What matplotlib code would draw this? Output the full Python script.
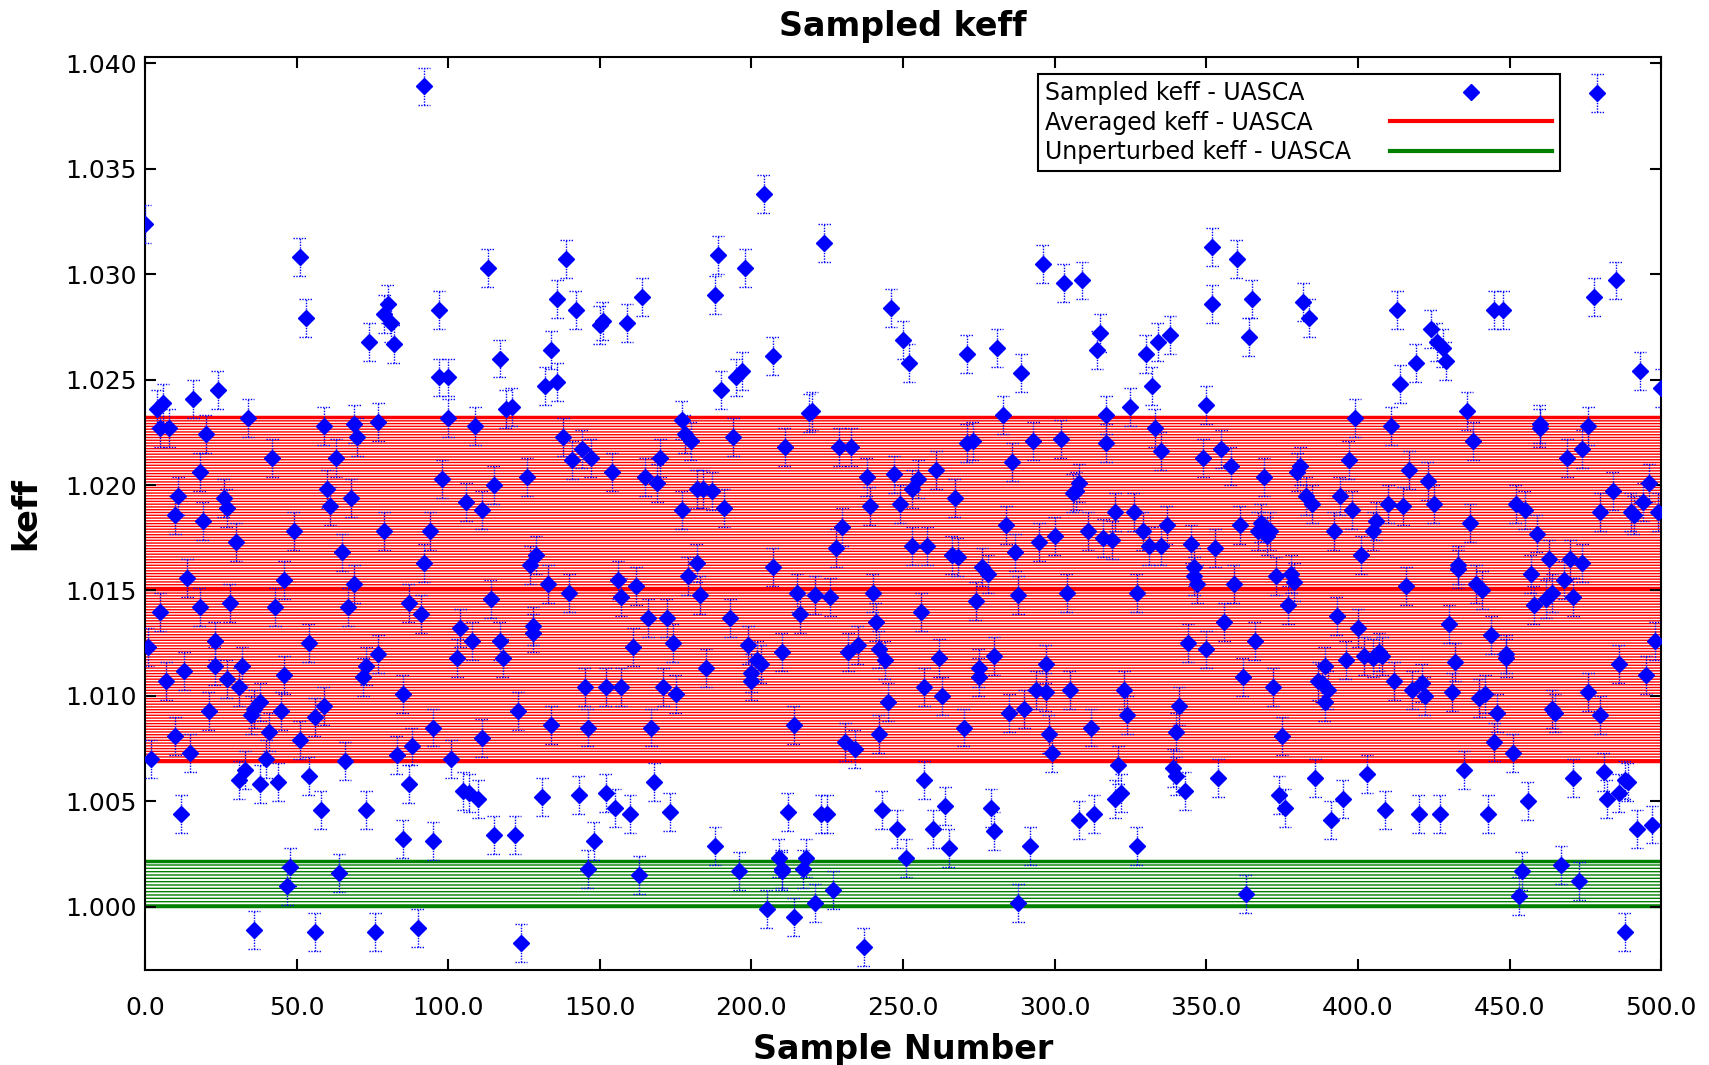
import matplotlib
matplotlib.use('Agg')
import matplotlib.pyplot as plt
from matplotlib.lines import Line2D
import numpy as np

# sample index and sampled keff
sample_number = [
    0, 1, 2, 4, 5, 5, 6, 7, 8, 10,
    10, 11, 12, 13, 14, 15, 16, 18, 18, 19,
    20, 21, 23, 23, 24, 26, 27, 27, 28, 30,
    31, 31, 32, 33, 34, 35, 36, 36, 38, 38,
    40, 41, 42, 43, 44, 45, 46, 46, 47, 48,
    49, 51, 51, 53, 54, 54, 56, 56, 58, 59,
    59, 60, 61, 63, 64, 65, 66, 67, 68, 69,
    69, 70, 72, 73, 73, 74, 76, 77, 77, 79,
    79, 80, 81, 82, 83, 85, 85, 87, 87, 88,
    90, 91, 92, 92, 94, 95, 95, 97, 97, 98,
    100, 100, 101, 103, 104, 105, 106, 107, 108, 109,
    110, 111, 111, 113, 114, 115, 115, 117, 117, 118,
    119, 121, 122, 123, 124, 126, 127, 128, 128, 129,
    131, 132, 133, 134, 134, 136, 136, 138, 139, 140,
    141, 142, 143, 144, 145, 146, 146, 147, 148, 150,
    151, 152, 152, 154, 155, 156, 157, 157, 159, 160,
    161, 162, 163, 164, 165, 166, 167, 168, 169, 170,
    171, 172, 173, 174, 175, 177, 177, 178, 179, 180,
    182, 182, 183, 184, 185, 187, 188, 188, 189, 190,
    191, 193, 194, 195, 196, 197, 198, 199, 200, 200,
    202, 203, 204, 205, 207, 207, 209, 210, 210, 210,
    211, 212, 214, 214, 215, 216, 217, 218, 219, 220,
    221, 221, 223, 224, 225, 226, 227, 228, 229, 230,
    231, 232, 233, 234, 235, 237, 238, 239, 240, 241,
    242, 242, 243, 244, 245, 246, 247, 248, 249, 250,
    251, 252, 253, 253, 255, 256, 257, 257, 258, 260,
    261, 262, 263, 264, 265, 266, 267, 268, 270, 271,
    271, 273, 274, 275, 275, 276, 278, 279, 280, 280,
    281, 283, 284, 285, 286, 287, 288, 288, 289, 290,
    292, 293, 294, 295, 296, 297, 297, 298, 299, 300,
    302, 303, 304, 305, 306, 307, 308, 308, 309, 311,
    312, 313, 314, 315, 316, 317, 317, 319, 320, 320,
    321, 322, 323, 324, 325, 326, 327, 327, 329, 330,
    331, 332, 333, 334, 335, 335, 337, 338, 339, 340,
    340, 341, 343, 344, 345, 346, 346, 347, 349, 350,
    350, 352, 352, 353, 354, 355, 356, 358, 359, 360,
    361, 362, 363, 364, 365, 366, 367, 368, 369, 370,
    371, 372, 373, 374, 375, 376, 377, 378, 379, 380,
    381, 382, 383, 384, 385, 386, 387, 388, 389, 389,
    390, 391, 392, 393, 394, 395, 396, 397, 398, 399,
    400, 401, 402, 403, 405, 405, 406, 407, 408, 409,
    410, 411, 412, 413, 414, 415, 416, 417, 418, 419,
    420, 421, 422, 423, 424, 425, 426, 427, 428, 429,
    430, 431, 432, 433, 433, 435, 436, 437, 438, 439,
    440, 441, 442, 443, 444, 445, 445, 446, 448, 449,
    449, 451, 452, 453, 454, 455, 456, 457, 458, 459,
    460, 460, 462, 463, 464, 464, 465, 467, 468, 469,
    470, 471, 471, 473, 474, 474, 476, 476, 478, 479,
    480, 480, 481, 482, 484, 485, 486, 486, 488, 488,
    489, 490, 491, 492, 493, 494, 495, 496, 497, 498,
    499, 500,
]

keff_sampled = [
    1.0324, 1.0123, 1.0070, 1.0236, 1.0227, 1.0140, 1.0239, 1.0107, 1.0227, 1.0186,
    1.0081, 1.0195, 1.0044, 1.0112, 1.0156, 1.0073, 1.0241, 1.0142, 1.0206, 1.0183,
    1.0224, 1.0093, 1.0126, 1.0114, 1.0245, 1.0194, 1.0108, 1.0189, 1.0144, 1.0173,
    1.0060, 1.0104, 1.0114, 1.0065, 1.0232, 1.0091, 0.9989, 1.0094, 1.0058, 1.0097,
    1.0070, 1.0083, 1.0213, 1.0142, 1.0059, 1.0093, 1.0110, 1.0155, 1.0010, 1.0019,
    1.0178, 1.0308, 1.0079, 1.0279, 1.0062, 1.0125, 0.9988, 1.0090, 1.0046, 1.0228,
    1.0095, 1.0198, 1.0190, 1.0213, 1.0016, 1.0168, 1.0069, 1.0142, 1.0194, 1.0153,
    1.0229, 1.0223, 1.0109, 1.0046, 1.0114, 1.0268, 0.9988, 1.0230, 1.0120, 1.0178,
    1.0281, 1.0286, 1.0277, 1.0267, 1.0072, 1.0101, 1.0032, 1.0144, 1.0058, 1.0076,
    0.9990, 1.0139, 1.0163, 1.0389, 1.0178, 1.0031, 1.0085, 1.0283, 1.0251, 1.0203,
    1.0251, 1.0232, 1.0070, 1.0118, 1.0132, 1.0055, 1.0192, 1.0054, 1.0126, 1.0228,
    1.0051, 1.0188, 1.0080, 1.0303, 1.0146, 1.0034, 1.0200, 1.0260, 1.0126, 1.0118,
    1.0236, 1.0237, 1.0034, 1.0093, 0.9983, 1.0204, 1.0162, 1.0133, 1.0130, 1.0167,
    1.0052, 1.0247, 1.0153, 1.0086, 1.0264, 1.0288, 1.0249, 1.0223, 1.0307, 1.0149,
    1.0212, 1.0283, 1.0053, 1.0217, 1.0104, 1.0018, 1.0085, 1.0213, 1.0031, 1.0276,
    1.0278, 1.0054, 1.0104, 1.0206, 1.0047, 1.0155, 1.0147, 1.0104, 1.0277, 1.0044,
    1.0123, 1.0152, 1.0015, 1.0289, 1.0204, 1.0137, 1.0085, 1.0059, 1.0201, 1.0213,
    1.0104, 1.0137, 1.0045, 1.0125, 1.0101, 1.0188, 1.0231, 1.0224, 1.0157, 1.0221,
    1.0163, 1.0198, 1.0148, 1.0198, 1.0113, 1.0197, 1.0029, 1.0290, 1.0309, 1.0245,
    1.0189, 1.0137, 1.0223, 1.0251, 1.0017, 1.0254, 1.0303, 1.0124, 1.0107, 1.0111,
    1.0117, 1.0115, 1.0338, 0.9999, 1.0161, 1.0261, 1.0023, 1.0018, 1.0121, 1.0017,
    1.0218, 1.0045, 0.9995, 1.0086, 1.0149, 1.0139, 1.0018, 1.0023, 1.0234, 1.0235,
    1.0148, 1.0002, 1.0044, 1.0315, 1.0044, 1.0147, 1.0008, 1.0170, 1.0218, 1.0180,
    1.0078, 1.0121, 1.0218, 1.0075, 1.0124, 0.9981, 1.0204, 1.0190, 1.0149, 1.0135,
    1.0122, 1.0082, 1.0046, 1.0117, 1.0097, 1.0284, 1.0205, 1.0037, 1.0191, 1.0269,
    1.0023, 1.0258, 1.0198, 1.0171, 1.0203, 1.0140, 1.0060, 1.0104, 1.0171, 1.0037,
    1.0207, 1.0118, 1.0100, 1.0048, 1.0028, 1.0167, 1.0194, 1.0166, 1.0085, 1.0262,
    1.0220, 1.0221, 1.0145, 1.0109, 1.0113, 1.0161, 1.0158, 1.0047, 1.0036, 1.0119,
    1.0265, 1.0233, 1.0181, 1.0092, 1.0211, 1.0168, 1.0148, 1.0002, 1.0253, 1.0094,
    1.0029, 1.0221, 1.0103, 1.0173, 1.0305, 1.0115, 1.0102, 1.0082, 1.0073, 1.0176,
    1.0222, 1.0296, 1.0149, 1.0103, 1.0196, 1.0197, 1.0041, 1.0201, 1.0297, 1.0178,
    1.0085, 1.0044, 1.0264, 1.0272, 1.0175, 1.0233, 1.0220, 1.0174, 1.0187, 1.0051,
    1.0067, 1.0054, 1.0103, 1.0091, 1.0237, 1.0187, 1.0029, 1.0149, 1.0178, 1.0262,
    1.0171, 1.0247, 1.0227, 1.0268, 1.0171, 1.0216, 1.0181, 1.0271, 1.0066, 1.0062,
    1.0083, 1.0095, 1.0055, 1.0125, 1.0172, 1.0161, 1.0157, 1.0153, 1.0213, 1.0238,
    1.0122, 1.0313, 1.0286, 1.0170, 1.0061, 1.0217, 1.0135, 1.0209, 1.0153, 1.0307,
    1.0181, 1.0109, 1.0006, 1.0270, 1.0288, 1.0126, 1.0178, 1.0182, 1.0204, 1.0176,
    1.0178, 1.0104, 1.0157, 1.0053, 1.0081, 1.0047, 1.0143, 1.0158, 1.0154, 1.0206,
    1.0209, 1.0287, 1.0195, 1.0279, 1.0191, 1.0061, 1.0107, 1.0106, 1.0114, 1.0097,
    1.0103, 1.0041, 1.0178, 1.0138, 1.0195, 1.0051, 1.0117, 1.0212, 1.0188, 1.0232,
    1.0132, 1.0167, 1.0119, 1.0063, 1.0178, 1.0118, 1.0183, 1.0121, 1.0119, 1.0046,
    1.0191, 1.0228, 1.0107, 1.0283, 1.0248, 1.0190, 1.0152, 1.0207, 1.0103, 1.0258,
    1.0044, 1.0106, 1.0100, 1.0202, 1.0274, 1.0191, 1.0268, 1.0044, 1.0265, 1.0259,
    1.0134, 1.0102, 1.0116, 1.0160, 1.0162, 1.0065, 1.0235, 1.0182, 1.0221, 1.0153,
    1.0099, 1.0150, 1.0101, 1.0044, 1.0129, 1.0078, 1.0283, 1.0092, 1.0283, 1.0118,
    1.0120, 1.0073, 1.0191, 1.0005, 1.0017, 1.0188, 1.0050, 1.0158, 1.0143, 1.0177,
    1.0229, 1.0227, 1.0146, 1.0165, 1.0149, 1.0094, 1.0092, 1.0020, 1.0155, 1.0213,
    1.0165, 1.0061, 1.0147, 1.0012, 1.0217, 1.0163, 1.0102, 1.0228, 1.0289, 1.0386,
    1.0091, 1.0187, 1.0064, 1.0051, 1.0197, 1.0297, 1.0115, 1.0054, 0.9988, 1.0060,
    1.0059, 1.0187, 1.0186, 1.0037, 1.0254, 1.0192, 1.0110, 1.0201, 1.0039, 1.0126,
    1.0187, 1.0246,
]
assert len(sample_number) == len(keff_sampled)

keff_err = 0.0009                 # statistical error on each sample
keff_avg, keff_avg_std = 1.01507, 0.00815
keff_unpert, keff_unpert_std = 1.00109, 0.00106

x_ticks = [0, 50, 100, 150, 200, 250, 300, 350, 400, 450, 500]
y_ticks = [1.000, 1.005, 1.010, 1.015, 1.020, 1.025, 1.030, 1.035, 1.040]

x = np.array(sample_number, dtype=float)
y = np.array(keff_sampled)

fig = plt.figure(figsize=(17.09, 10.65), dpi=100)
ax = fig.add_axes([0.0848, 0.0892, 0.8872, 0.8573])

# averaged keff band (mean +/- std), striped like the original
ax.fill_between([0, 500], keff_avg - keff_avg_std, keff_avg + keff_avg_std,
                facecolor='white', edgecolor='red', hatch='------', linewidth=0, zorder=1)
for yy in (keff_avg - keff_avg_std, keff_avg, keff_avg + keff_avg_std):
    ax.axhline(yy, color='red', lw=2.5, zorder=1.5)

# unperturbed keff band
ax.fill_between([0, 500], keff_unpert - keff_unpert_std, keff_unpert + keff_unpert_std,
                facecolor='white', edgecolor='green', hatch='-----', linewidth=0, zorder=1)
for yy in (keff_unpert - keff_unpert_std, keff_unpert + keff_unpert_std):
    ax.axhline(yy, color='green', lw=2.5, zorder=1.5)

# dotted error bars with dotted caps
ax.vlines(x, y - keff_err, y + keff_err, colors='blue', linestyles=(0, (1, 1)), lw=1, zorder=3)
ax.hlines(y - keff_err, x - 2.1, x + 2.1, colors='blue', linestyles=(0, (1, 1)), lw=1, zorder=3)
ax.hlines(y + keff_err, x - 2.1, x + 2.1, colors='blue', linestyles=(0, (1, 1)), lw=1, zorder=3)
ax.plot(x, y, 'D', color='blue', ms=8, zorder=4)

ax.set_xlim(0, 500)
ax.set_ylim(0.997, 1.0403)
ax.set_xticks(x_ticks)
ax.set_xticklabels([f'{t:.1f}' for t in x_ticks])
ax.set_yticks(y_ticks)
ax.set_yticklabels([f'{t:.3f}' for t in y_ticks])
ax.tick_params(direction='in', top=True, right=True, length=8, width=1.5, labelsize=18)
ax.tick_params(axis='x', pad=19)
ax.tick_params(axis='y', pad=6)
for s in ax.spines.values():
    s.set_linewidth(1.5)

ax.set_title('Sampled keff', fontsize=24, fontweight='bold', pad=15)
ax.set_xlabel('Sample Number', fontsize=24, fontweight='bold', labelpad=9)
ax.set_ylabel('keff', fontsize=24, fontweight='bold', labelpad=16)

handles = [
    Line2D([], [], ls='none', marker='D', color='blue', ms=8),
    Line2D([], [], color='red', lw=3),
    Line2D([], [], color='green', lw=3),
]
labels = ['Sampled keff - UASCA', 'Averaged keff - UASCA', 'Unperturbed keff - UASCA']
leg = ax.legend(handles, labels, loc='upper right', bbox_to_anchor=(0.933, 0.981),
                markerfirst=False, fancybox=False, framealpha=1, edgecolor='black',
                fontsize=17, handlelength=6.9, borderpad=0.3, labelspacing=0.22,
                handletextpad=1.65, borderaxespad=0)
leg.get_frame().set_linewidth(1.5)

# left-align legend labels while keeping the line handles in one column on the right
fig.canvas.draw()
renderer = fig.canvas.get_renderer()
widths = [t.get_window_extent(renderer).width for t in leg.get_texts()]
px_per_pt = renderer.points_to_pixels(1.0)
column = leg._legend_handle_box.get_children()[0]
for row, w in zip(column.get_children(), widths):
    row.sep += (max(widths) - w) / px_per_pt

fig.savefig('out.png', dpi=100)
